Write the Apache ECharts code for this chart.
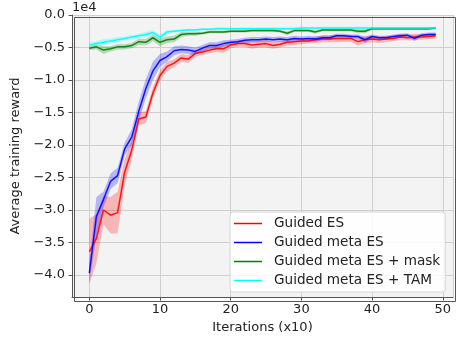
<!DOCTYPE html>
<html><head><meta charset="utf-8">
<script src="https://cdn.jsdelivr.net/npm/echarts@6/dist/echarts.min.js"></script>
<style>html,body{margin:0;padding:0;background:#fff}#c{width:459px;height:339px}</style>
</head><body><div id="c"></div>
<script>
const iterations = [0,1,2,3,4,5,6,7,8,9,10,11,12,13,14,15,16,17,18,19,20,21,22,23,24,25,26,27,28,29,30,31,32,33,34,35,36,37,38,39,40,41,42,43,44,45,46,47,48,49];
const seriesNames = ['Guided ES','Guided meta ES','Guided meta ES + mask','Guided meta ES + TAM'];
const guidedES = [-3.64,-3.44,-3.00,-3.08,-3.04,-2.42,-2.08,-1.60,-1.57,-1.20,-0.93,-0.79,-0.74,-0.66,-0.68,-0.59,-0.57,-0.54,-0.52,-0.52,-0.46,-0.44,-0.44,-0.46,-0.45,-0.44,-0.47,-0.45,-0.42,-0.41,-0.40,-0.40,-0.38,-0.37,-0.37,-0.36,-0.36,-0.36,-0.41,-0.38,-0.37,-0.38,-0.37,-0.36,-0.34,-0.35,-0.34,-0.34,-0.33,-0.32];
const guidedESStd = [0.50,0.38,0.22,0.28,0.32,0.20,0.14,0.10,0.09,0.09,0.08,0.07,0.06,0.06,0.06,0.05,0.05,0.05,0.05,0.06,0.05,0.05,0.05,0.06,0.05,0.06,0.05,0.05,0.05,0.05,0.05,0.04,0.05,0.05,0.05,0.06,0.05,0.05,0.06,0.05,0.05,0.05,0.05,0.04,0.05,0.04,0.05,0.04,0.04,0.04];
const guidedMetaES = [-3.97,-3.10,-2.84,-2.56,-2.47,-2.06,-1.88,-1.48,-1.13,-0.86,-0.70,-0.64,-0.55,-0.53,-0.54,-0.56,-0.51,-0.47,-0.47,-0.44,-0.42,-0.41,-0.39,-0.38,-0.38,-0.37,-0.38,-0.37,-0.38,-0.36,-0.37,-0.36,-0.37,-0.35,-0.35,-0.32,-0.32,-0.33,-0.33,-0.38,-0.33,-0.35,-0.35,-0.33,-0.32,-0.31,-0.36,-0.31,-0.30,-0.30];
const guidedMetaESStd = [0.15,0.30,0.12,0.12,0.12,0.10,0.12,0.15,0.15,0.14,0.10,0.08,0.07,0.06,0.06,0.06,0.05,0.05,0.05,0.05,0.04,0.04,0.04,0.04,0.04,0.04,0.04,0.04,0.04,0.04,0.04,0.04,0.04,0.04,0.04,0.03,0.03,0.03,0.03,0.05,0.03,0.03,0.03,0.03,0.03,0.03,0.04,0.03,0.03,0.03];
const maskES = [-0.51,-0.49,-0.54,-0.52,-0.49,-0.49,-0.47,-0.41,-0.42,-0.35,-0.42,-0.38,-0.37,-0.30,-0.29,-0.29,-0.28,-0.26,-0.26,-0.26,-0.25,-0.25,-0.25,-0.24,-0.24,-0.24,-0.24,-0.25,-0.28,-0.24,-0.24,-0.24,-0.26,-0.23,-0.23,-0.23,-0.23,-0.23,-0.25,-0.25,-0.21,-0.21,-0.21,-0.21,-0.21,-0.21,-0.21,-0.21,-0.21,-0.20];
const maskStd = [0.03,0.04,0.06,0.04,0.04,0.04,0.04,0.05,0.05,0.05,0.06,0.05,0.05,0.04,0.03,0.03,0.02,0.02,0.02,0.02,0.02,0.02,0.02,0.02,0.02,0.02,0.02,0.02,0.03,0.02,0.02,0.02,0.03,0.02,0.02,0.02,0.02,0.02,0.03,0.03,0.02,0.02,0.02,0.02,0.02,0.02,0.02,0.02,0.02,0.02];
const tamES = [-0.46,-0.44,-0.42,-0.40,-0.38,-0.36,-0.34,-0.32,-0.30,-0.27,-0.34,-0.26,-0.25,-0.24,-0.23,-0.23,-0.22,-0.22,-0.21,-0.21,-0.21,-0.21,-0.21,-0.21,-0.21,-0.21,-0.21,-0.21,-0.21,-0.21,-0.20,-0.20,-0.20,-0.20,-0.20,-0.20,-0.20,-0.20,-0.20,-0.20,-0.20,-0.20,-0.20,-0.20,-0.20,-0.20,-0.20,-0.20,-0.20,-0.20];
const tamStd = [0.03,0.04,0.05,0.04,0.04,0.03,0.03,0.03,0.04,0.04,0.04,0.03,0.02,0.02,0.02,0.02,0.02,0.02,0.02,0.02,0.02,0.02,0.02,0.02,0.02,0.02,0.02,0.02,0.02,0.02,0.02,0.02,0.02,0.02,0.02,0.02,0.02,0.02,0.02,0.02,0.02,0.02,0.02,0.02,0.02,0.02,0.02,0.02,0.02,0.02];

const colors = ['#ff0000','#0000ff','#008000','#00ffff'];
const bandColors = ['rgba(255,0,0,0.25)','rgba(0,0,255,0.25)','rgba(0,128,0,0.25)','rgba(0,255,255,0.25)'];
const means = [guidedES, guidedMetaES, maskES, tamES];
const stds = [guidedESStd, guidedMetaESStd, maskStd, tamStd];

const FONT = 'DejaVu Sans';
const chart = echarts.init(document.getElementById('c'), null, {renderer:'canvas'});

function bandSeries(k) {
  const mean = means[k], std = stds[k];
  return {
    type: 'custom', name: seriesNames[k] + ' band', silent: true, z: 2,
    data: iterations.map((x, i) => [x, mean[i] - std[i], mean[i] + std[i]]),
    encode: {x: 0, y: [1, 2]},
    renderItem: function (params, api) {
      if (params.dataIndex !== 0) return null;
      const pts = [];
      for (let i = 0; i < mean.length; i++) pts.push(api.coord([iterations[i], mean[i] + std[i]]));
      for (let i = mean.length - 1; i >= 0; i--) pts.push(api.coord([iterations[i], mean[i] - std[i]]));
      return {type: 'polygon', shape: {points: pts}, style: {fill: bandColors[k]}};
    }
  };
}
function lineSeries(k) {
  return {
    type: 'line', name: seriesNames[k], z: 3,
    data: iterations.map((x, i) => [x, means[k][i]]),
    symbol: 'none', showSymbol: false,
    lineStyle: {color: colors[k], width: 1.5, opacity: 0.9},
    itemStyle: {color: colors[k]}
  };
}
const series = [];
for (let k = 0; k < 4; k++) { series.push(bandSeries(k)); series.push(lineSeries(k)); }

chart.setOption({
  animation: false,
  backgroundColor: '#ffffff',
  grid: {left: 72, right: 6, top: 15, bottom: 40, show: true, backgroundColor: '#f3f3f3', borderWidth: 0},
  xAxis: {
    type: 'value', min: -2.45, max: 51.45, splitNumber: 5,
    name: 'Iterations (x10)', nameLocation: 'middle', nameGap: 19,
    nameTextStyle: {fontFamily: FONT, fontSize: 13, color: '#222'},
    axisLine: {show: true, onZero: false, lineStyle: {color: '#555', width: 1}},
    axisTick: {show: true, length: 3.5, lineStyle: {color: '#555'}},
    axisLabel: {fontFamily: FONT, fontSize: 13, color: '#222', margin: 6, showMinLabel: false, showMaxLabel: false},
    splitLine: {show: true, lineStyle: {color: '#cfcfcf', width: 1}}
  },
  yAxis: {
    type: 'value', min: -4.34, max: 0, splitNumber: 9,
    name: 'Average training reward', nameLocation: 'middle', nameGap: 42, nameRotate: 90,
    nameTextStyle: {fontFamily: FONT, fontSize: 13, color: '#222'},
    axisLine: {show: true, onZero: false, lineStyle: {color: '#555', width: 1}},
    axisTick: {show: true, length: 3.5, lineStyle: {color: '#555'}},
    axisLabel: {fontFamily: FONT, fontSize: 13, color: '#222', margin: 7, showMinLabel: false,
      formatter: v => (v < 0 ? '\u2212' : '') + Math.abs(v).toFixed(1)},
    splitLine: {show: true, lineStyle: {color: '#cfcfcf', width: 1}}
  },
  legend: {
    data: seriesNames, orient: 'vertical', left: 230, top: 212,
    padding: [4, 5, 4, 4], itemGap: 4, itemWidth: 28, itemHeight: 1.5, icon: 'rect',
    backgroundColor: 'rgba(255,255,255,0.85)', borderColor: '#d6d6d6', borderWidth: 1, borderRadius: 3,
    textStyle: {fontFamily: FONT, fontSize: 13.6, color: '#222', lineHeight: 15, padding: [0, 0, 0, 7]}
  },
  graphic: [
    {type: 'rect', left: 72, top: 15, silent: true, z: 100, shape: {width: 381, height: 284}, style: {fill: 'none', stroke: '#555', lineWidth: 1}},
    {type: 'text', left: 72, top: 1, z: 100, style: {text: '1e4', font: '13px "DejaVu Sans"', fill: '#222'}}
  ],
  series: series
});
</script>
</body></html>
